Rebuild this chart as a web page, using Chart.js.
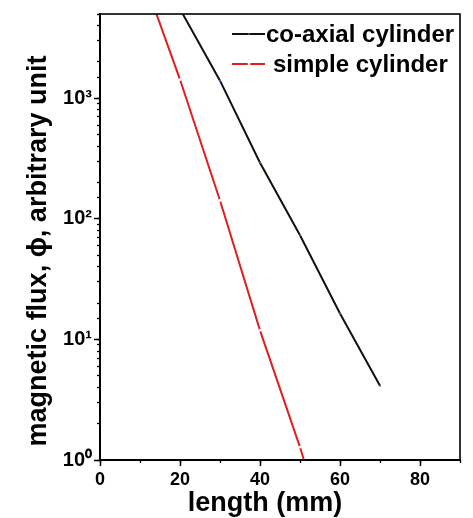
<!DOCTYPE html>
<html>
<head>
<meta charset="utf-8">
<script src="https://cdn.jsdelivr.net/npm/chart.js"></script>
<style>
  html, body { margin: 0; padding: 0; background: #fff; }
  #wrap { width: 473px; height: 518px; }
</style>
</head>
<body>
<div id="wrap"><canvas id="c" width="473" height="518"></canvas></div>
<script>
// ---- data ----
const coaxialX = [20, 30, 40, 50, 60, 70];
const coaxialY = [5500, 1400, 292, 73, 16.4, 4.13];
const simpleX  = [10, 20, 30, 40, 50, 60];
const simpleY  = [12000, 1430, 142, 11.9, 1.28, 0.1];
const seriesLabels = ['co-axial cylinder', 'simple cylinder'];
const xTickStepMajor = 20;
const xTickStepMinor = 10;
const xRange = [0, 90];
const yRange = [1, 5000];
const xTitle = 'length (mm)';
const yTitle = 'magnetic flux, \u03D5, arbitrary unit';
const supDigits = {'0':'\u2070','1':'\u00B9','2':'\u00B2','3':'\u00B3','4':'\u2074','5':'\u2075','6':'\u2076','7':'\u2077','8':'\u2078','9':'\u2079','-':'\u207B'};

const FONT = '"Liberation Sans", Arial, Helvetica, sans-serif';

function toPts(xs, ys) { return xs.map((x, i) => ({x: x, y: ys[i]})); }
function isDecade(v) { const l = Math.log10(v); return Math.abs(l - Math.round(l)) < 1e-9; }
function decadeLabel(v) {
  const e = String(Math.round(Math.log10(v)));
  return '10' + e.split('').map(ch => supDigits[ch]).join('');
}

const overlay = {
  id: 'overlay',
  afterDraw(chart) {
    const ctx = chart.ctx, a = chart.chartArea;
    ctx.save();
    // frame
    ctx.strokeStyle = '#000';
    ctx.lineWidth = 1.6;
    ctx.strokeRect(a.left, a.top, a.right - a.left, a.bottom - a.top);
    // y title
    ctx.fillStyle = '#000';
    ctx.font = 'bold 27px ' + FONT;
    ctx.textAlign = 'center';
    ctx.textBaseline = 'alphabetic';
    ctx.save();
    ctx.translate(46, 251);
    ctx.rotate(-Math.PI / 2);
    ctx.fillText(yTitle, 0, 0);
    ctx.restore();
    // x title
    ctx.fillText(xTitle, 265, 511);
    // legend
    const rows = [
      {ds: chart.data.datasets[0], y: 34, tx: 266},
      {ds: chart.data.datasets[1], y: 64, tx: 273}
    ];
    ctx.font = 'bold 24px ' + FONT;
    ctx.textAlign = 'left';
    ctx.textBaseline = 'middle';
    rows.forEach(r => {
      ctx.strokeStyle = r.ds.borderColor;
      ctx.lineWidth = r.ds.borderWidth;
      ctx.beginPath();
      ctx.moveTo(232, r.y);
      ctx.lineTo(265, r.y);
      ctx.stroke();
      ctx.fillStyle = r.ds.pointBackgroundColor;
      ctx.beginPath();
      ctx.arc(249, r.y, r.ds.pointRadius, 0, Math.PI * 2);
      ctx.fill();
      ctx.fillStyle = '#000';
      ctx.fillText(r.ds.label, r.tx, r.y + 1);
    });
    ctx.restore();
  }
};

new Chart(document.getElementById('c'), {
  type: 'line',
  data: {
    datasets: [
      {
        label: seriesLabels[0],
        data: toPts(coaxialX, coaxialY),
        borderColor: '#111111',
        borderWidth: 2,
        pointRadius: 1,
        pointBorderWidth: 0,
        pointBackgroundColor: '#4a5cc0',
        tension: 0
      },
      {
        label: seriesLabels[1],
        data: toPts(simpleX, simpleY),
        borderColor: '#e01e1e',
        borderWidth: 2,
        pointRadius: 1.4,
        pointBorderWidth: 0,
        pointBackgroundColor: '#ffffff',
        tension: 0
      }
    ]
  },
  options: {
    responsive: false,
    animation: false,
    parsing: true,
    layout: { padding: { top: 10, right: 13, left: 0, bottom: 0 } },
    plugins: { legend: { display: false }, tooltip: { enabled: false }, title: { display: false } },
    scales: {
      x: {
        type: 'linear', position: 'bottom', weight: 1,
        min: xRange[0], max: xRange[1],
        afterFit: s => { s.height = 58; },
        ticks: { stepSize: xTickStepMajor, includeBounds: false, color: '#000',
                 font: { family: FONT, size: 18, weight: 'bold' }, padding: 3, maxRotation: 0 },
        grid: { drawOnChartArea: false, drawTicks: true, tickLength: 6, tickWidth: 1.5, tickColor: '#000' },
        border: { display: true, color: '#000', width: 2 }
      },
      x2: {
        type: 'linear', position: 'bottom', weight: 0,
        min: xRange[0], max: xRange[1],
        afterFit: s => { s.height = 0; },
        ticks: { stepSize: xTickStepMinor, display: false },
        grid: { drawOnChartArea: false, drawTicks: true, tickLength: 3, tickWidth: 1.3, tickColor: '#000' },
        border: { display: false }
      },
      y: {
        type: 'logarithmic', position: 'left', weight: 1,
        min: yRange[0], max: yRange[1],
        afterFit: s => { s.width = 100; },
        afterBuildTicks: s => { s.ticks = s.ticks.filter(t => isDecade(t.value)); },
        ticks: { color: '#000', font: { family: FONT, size: 20, weight: 'bold' }, padding: 2,
                 autoSkip: false, callback: v => decadeLabel(v) },
        grid: { drawOnChartArea: false, drawTicks: true, tickLength: 6, tickWidth: 1.5, tickColor: '#000' },
        border: { display: true, color: '#000', width: 2 }
      },
      y2: {
        type: 'logarithmic', position: 'left', weight: 0,
        min: yRange[0], max: yRange[1],
        afterFit: s => { s.width = 0; },
        ticks: { display: false, autoSkip: false },
        grid: { drawOnChartArea: false, drawTicks: true, tickLength: 3, tickWidth: 1.3, tickColor: '#000' },
        border: { display: false }
      }
    }
  },
  plugins: [overlay]
});
</script>
</body>
</html>
